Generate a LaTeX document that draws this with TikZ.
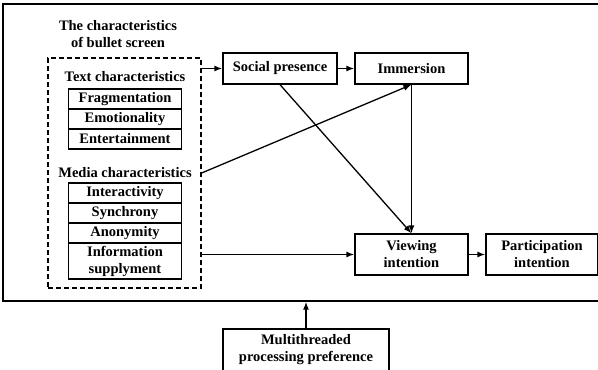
\documentclass[tikz,border=0pt]{standalone}
\usepackage{fontspec}
\setmainfont{Liberation Serif}
\usetikzlibrary{arrows.meta,calc}
\begin{document}
\begin{tikzpicture}[x=1pt,y=-1pt,line width=1.3pt,
  txt/.style={align=center,inner sep=0pt,font=\bfseries\fontsize{14.5}{17}\selectfont},
  box/.style={txt,draw,line width=1.3pt},
  cell/.style={box,minimum width=113pt,minimum height=20pt},
  arr/.style={-{Latex[length=8pt,width=6pt]}}]
\clip (0,0) rectangle (598,370);
\fill[white] (0,0) rectangle (598,370);
\node[draw,line width=1.3pt,minimum width=597pt,minimum height=297pt,inner sep=0pt] (outer) at (301.5,152.5) {};
\node[draw,dashed,dash pattern=on 5pt off 3pt,line width=1.3pt,minimum width=153pt,minimum height=230pt,inner sep=0pt] (dbox) at (124.5,173) {};
\node[txt] (title) at (118,34) {The characteristics\\of bullet screen};
\node[txt] (textc) at (125,77) {Text characteristics};
\node[cell] (frag) at (125,99) {Fragmentation};
\node[cell] (emot) at (125,119) {Emotionality};
\node[cell] (ent) at (125,139) {Entertainment};
\node[txt] (mediac) at (125,173) {Media characteristics};
\node[cell] (inter) at (125,193) {Interactivity};
\node[cell] (sync) at (125,213) {Synchrony};
\node[cell] (anon) at (125,233) {Anonymity};
\node[cell,minimum height=36pt] (info) at (125,261) {Information\\supplyment};
\node[box,minimum width=114pt,minimum height=31pt] (social) at (280,68.5) {Social presence};
\node[box,minimum width=113pt,minimum height=31pt] (imm) at (411.5,68.5) {Immersion};
\node[box,minimum width=113pt,minimum height=41pt] (view) at (411.5,254.5) {Viewing\\intention};
\node[box,minimum width=112pt,minimum height=41pt] (part) at (542,254.5) {Participation\\intention};
\node[box,minimum width=166pt,minimum height=42pt] (multi) at (306,350) {Multithreaded\\processing preference};
\draw[arr] (social.west -| dbox.east) -- (social.west);
\draw[arr] (social) -- (imm);
\draw[arr] (dbox.east) -- (imm.south);
\draw[arr] (social.south) -- (view.north);
\draw[arr] (imm.south) -- (view.north);
\draw[arr] (view.west -| dbox.east) -- (view.west);
\draw[arr] (view) -- (part);
\draw[arr] (multi.north) -- (multi.north |- outer.south);
\end{tikzpicture}
\end{document}
